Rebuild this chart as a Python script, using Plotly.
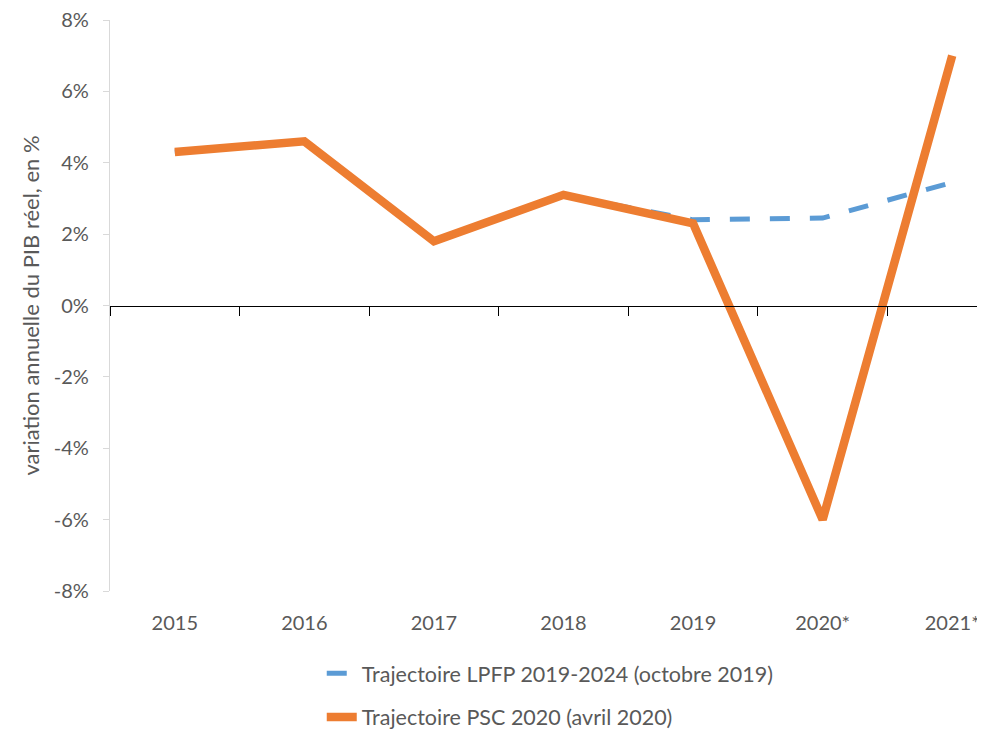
import plotly.graph_objects as go

years = ["2015", "2016", "2017", "2018", "2019", "2020*", "2021*"]
lpfp = [4.3, 4.6, 1.8, 3.1, 2.4, 2.45, 3.45]
psc = [4.3, 4.6, 1.8, 3.1, 2.3, -6.0, 7.0]
y_ticks = [-8, -6, -4, -2, 0, 2, 4, 6, 8]
y_tick_labels = [f"{v}%" for v in y_ticks]

FONT = "Lato, 'Open Sans', sans-serif"
TXT = "#595959"

fig = go.Figure()
fig.add_trace(go.Scatter(
    x=years, y=lpfp, mode="lines", name="Trajectoire LPFP 2019-2024 (octobre 2019)",
    line=dict(color="#5B9BD5", width=5, dash="20px,20px"), legendgroup="a",
))
fig.add_trace(go.Scatter(
    x=years, y=psc, mode="lines", name="Trajectoire PSC 2020 (avril 2020)",
    line=dict(color="#ED7D31", width=8.5), legendgroup="b",
))
# invisible trace carrying the zero-crossing category axis
fig.add_trace(go.Scatter(x=years, y=psc, xaxis="x2", mode="lines",
                         line=dict(width=0), opacity=0, showlegend=False, hoverinfo="skip"))

xr = [-0.5, 6.253]
fig.update_layout(
    width=977, height=726,
    margin=dict(l=102, r=0, t=12, b=143, autoexpand=False),
    paper_bgcolor="white", plot_bgcolor="white",
    font=dict(family=FONT, size=20, color=TXT),
    showlegend=True,
    legend=dict(x=0.242, y=-0.108, xanchor="left", yanchor="top",
                font=dict(family=FONT, size=21.5, color=TXT),
                tracegroupgap=13, traceorder="grouped", bgcolor="rgba(0,0,0,0)"),
    xaxis=dict(type="category", categoryorder="array", categoryarray=years,
               range=xr, showline=False, showgrid=False, zeroline=False,
               automargin=False, ticklabeloverflow="allow",
               ticks="outside", ticklen=14, tickcolor="rgba(0,0,0,0)",
               tickfont=dict(family=FONT, size=20, color=TXT)),
    xaxis2=dict(type="category", categoryorder="array", categoryarray=years,
                range=xr, overlaying="x", anchor="free", position=0.5, side="bottom",
                automargin=False,
                showline=True, linecolor="black", linewidth=1.3,
                ticks="outside", tickson="boundaries", ticklen=9, tickcolor="black",
                tickwidth=1.3, showticklabels=False, showgrid=False, zeroline=False),
    yaxis=dict(range=[-8, 8], tickvals=y_ticks, ticktext=y_tick_labels,
               automargin=False, ticklabeloverflow="allow",
               showgrid=False, zeroline=False, showline=True,
               linecolor="#D9D9D9", linewidth=1.3, ticks="outside", ticklen=6,
               tickcolor="#D9D9D9", ticklabelstandoff=10,
               tickfont=dict(family=FONT, size=20, color=TXT),
               title=dict(text="variation annuelle du PIB réel, en %",
                          font=dict(family=FONT, size=22, color=TXT), standoff=8)),
)

fig.write_html("out.html")
